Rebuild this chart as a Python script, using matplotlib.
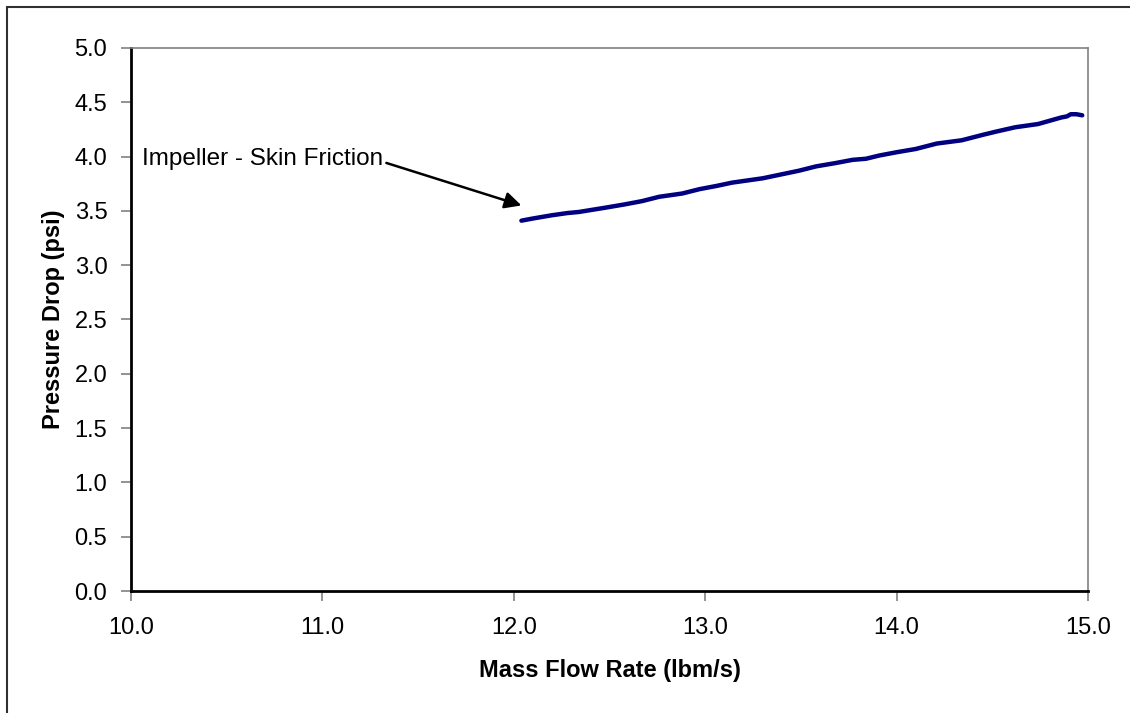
import matplotlib.pyplot as plt
from matplotlib.patches import Rectangle

plt.rcParams['font.family'] = ['Liberation Sans', 'DejaVu Sans']

# values
mass_flow = [12.04, 12.10, 12.20, 12.28, 12.34, 12.48, 12.58, 12.67, 12.76, 12.88,
             12.97, 13.06, 13.14, 13.30, 13.49, 13.58, 13.68, 13.77, 13.84, 13.91,
             14.00, 14.10, 14.21, 14.34, 14.45, 14.52, 14.62, 14.74, 14.80, 14.86,
             14.89, 14.91, 14.94, 14.97]
pressure_drop = [3.41, 3.43, 3.46, 3.48, 3.49, 3.53, 3.56, 3.59, 3.63, 3.66,
                 3.70, 3.73, 3.76, 3.80, 3.87, 3.91, 3.94, 3.97, 3.98, 4.01,
                 4.04, 4.07, 4.12, 4.15, 4.20, 4.23, 4.27, 4.30, 4.33, 4.36,
                 4.37, 4.39, 4.39, 4.38]
xticks = [10.0, 11.0, 12.0, 13.0, 14.0, 15.0]
yticks = [0.0, 0.5, 1.0, 1.5, 2.0, 2.5, 3.0, 3.5, 4.0, 4.5, 5.0]

fig = plt.figure(figsize=(11.3, 7.13), dpi=100)
ax = fig.add_axes([0.1159, 0.1711, 0.9628 - 0.1159, 0.9327 - 0.1711])

# outer chart border (only top and left edges are inside the image)
fig.patches.append(Rectangle((7 / 1130, -0.1), 1.2, 1 - 7 / 713 + 0.1,
                             transform=fig.transFigure, fill=False,
                             edgecolor='#303030', linewidth=1.5))

ax.plot(mass_flow, pressure_drop, color='#000080', linewidth=3.2,
        solid_capstyle='round', solid_joinstyle='round')

ax.annotate('Impeller - Skin Friction', xy=(12.04, 3.55), xytext=(10.06, 3.98),
            fontsize=17.5, ha='left', va='center',
            arrowprops=dict(arrowstyle='-|>', color='black', lw=1.8,
                            mutation_scale=25, relpos=(1.0, 0.35),
                            shrinkA=0, shrinkB=0))

ax.set_xlim(10, 15)
ax.set_ylim(0, 5)
ax.set_xticks(xticks)
ax.set_xticklabels([f'{v:.1f}' for v in xticks])
ax.set_yticks(yticks)
ax.set_yticklabels([f'{v:.1f}' for v in yticks])
ax.tick_params(axis='both', direction='out', length=7, width=1.2,
               color='#808080', labelsize=17)
ax.tick_params(axis='x', pad=12)
ax.tick_params(axis='y', pad=10)

for s in ['top', 'right']:
    ax.spines[s].set_color('#808080')
    ax.spines[s].set_linewidth(1.2)
for s in ['left', 'bottom']:
    ax.spines[s].set_color('black')
    ax.spines[s].set_linewidth(2)

ax.set_xlabel('Mass Flow Rate (lbm/s)', fontsize=17, fontweight='bold', labelpad=14)
ax.set_ylabel('Pressure Drop (psi)', fontsize=17, fontweight='bold', labelpad=7)

fig.savefig('out.png', dpi=100)
